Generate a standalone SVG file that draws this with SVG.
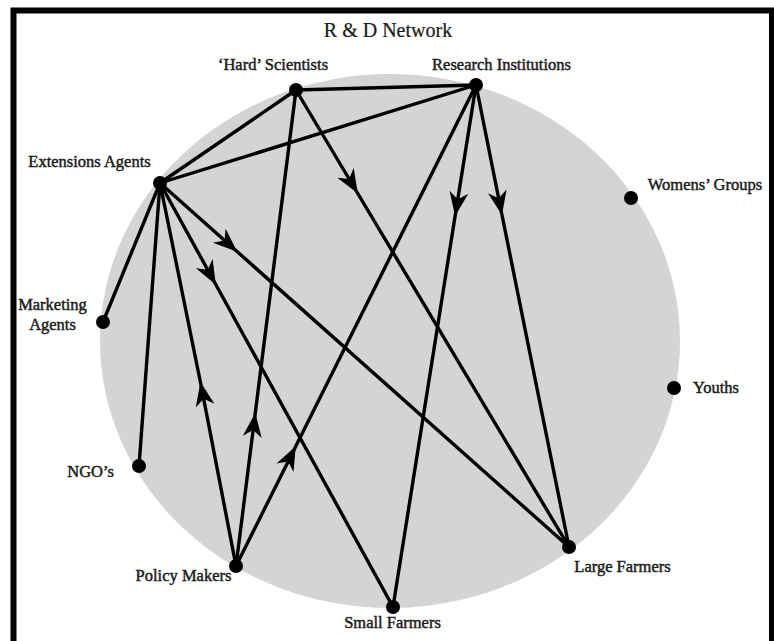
<svg xmlns="http://www.w3.org/2000/svg" width="774" height="641" viewBox="0 0 774 641">
  <style>
    .frame { fill: none; stroke: #000; stroke-width: 6; }
    .field { fill: #d4d4d4; }
    .link { fill: none; stroke: #000; stroke-width: 3.4; stroke-linecap: round; }
    .arrow { marker-mid: url(#head); }
    .dot { fill: #000; }
    .label { font-family: "Liberation Serif", "Times New Roman", serif; font-size: 16.5px; fill: #1a1a1a; stroke: #1a1a1a; stroke-width: 0.45; }
    .title { font-family: "Liberation Serif", "Times New Roman", serif; font-size: 20px; fill: #1a1a1a; stroke: #1a1a1a; stroke-width: 0.2; text-anchor: middle; }
  </style>
  <defs>
    <marker id="head" markerUnits="userSpaceOnUse" markerWidth="1" markerHeight="1" refX="0" refY="0" orient="auto" overflow="visible">
      <path d="M3,0 L-21,-9.5 L-14,0 L-21,9.5 Z" fill="#000"/>
    </marker>
  </defs>

  <rect width="774" height="641" fill="#fff"/>
  <path class="frame" d="M13.5,645 V10.5 H772 V645"/>

  <!-- shaded network field -->
  <ellipse class="field" cx="390" cy="341" rx="290" ry="267"/>

  <text class="title" x="388" y="37">R &amp; D Network</text>

  <!-- connectors -->
  <g id="connectors">
    <path class="link" d="M296,90 L476,85"/>
    <path class="link" d="M296,90 L160,183"/>
    <path class="link" d="M476,85 L160,183"/>
    <path class="link" d="M160,183 L103,322"/>
    <path class="link" d="M160,183 L139,466"/>
    <!-- directed links: arrowhead sits on the middle vertex -->
    <path class="link arrow" d="M296,90 L356.3,191 L569,547"/>
    <path class="link arrow" d="M476,85 L455.6,213 L393,607"/>
    <path class="link arrow" d="M476,85 L501.4,212 L569,547"/>
    <path class="link arrow" d="M160,183 L235,249.7 L569,547"/>
    <path class="link arrow" d="M160,183 L214.4,282 L393,607"/>
    <path class="link arrow" d="M236,566 L201,385 L160,183"/>
    <path class="link arrow" d="M236,566 L254.9,416 L296,90"/>
    <path class="link arrow" d="M236,566 L294.4,449 L476,85"/>
  </g>

  <!-- nodes -->
  <g id="hard-scientists">
    <circle class="dot" cx="296" cy="90" r="7"/>
    <text class="label" x="273" y="70" text-anchor="middle">‘Hard’ Scientists</text>
  </g>
  <g id="research-institutions">
    <circle class="dot" cx="476" cy="85" r="7"/>
    <text class="label" x="501.5" y="70" text-anchor="middle">Research Institutions</text>
  </g>
  <g id="extensions-agents">
    <circle class="dot" cx="160" cy="183" r="7"/>
    <text class="label" x="89.5" y="167" text-anchor="middle">Extensions Agents</text>
  </g>
  <g id="womens-groups">
    <circle class="dot" cx="631" cy="198" r="7"/>
    <text class="label" x="705" y="190" text-anchor="middle">Womens’ Groups</text>
  </g>
  <g id="marketing-agents">
    <circle class="dot" cx="103" cy="322" r="7"/>
    <text class="label" x="52.5" y="310" text-anchor="middle">Marketing</text>
    <text class="label" x="52.5" y="330" text-anchor="middle">Agents</text>
  </g>
  <g id="youths">
    <circle class="dot" cx="674" cy="388" r="7"/>
    <text class="label" x="693" y="393">Youths</text>
  </g>
  <g id="ngos">
    <circle class="dot" cx="139" cy="466" r="7"/>
    <text class="label" x="114" y="477" text-anchor="end">NGO’s</text>
  </g>
  <g id="policy-makers">
    <circle class="dot" cx="236" cy="566" r="7"/>
    <text class="label" x="183.5" y="581" text-anchor="middle">Policy Makers</text>
  </g>
  <g id="large-farmers">
    <circle class="dot" cx="569" cy="547" r="7"/>
    <text class="label" x="622.5" y="572" text-anchor="middle">Large Farmers</text>
  </g>
  <g id="small-farmers">
    <circle class="dot" cx="393" cy="607" r="7"/>
    <text class="label" x="392.5" y="628" text-anchor="middle">Small Farmers</text>
  </g>
</svg>
